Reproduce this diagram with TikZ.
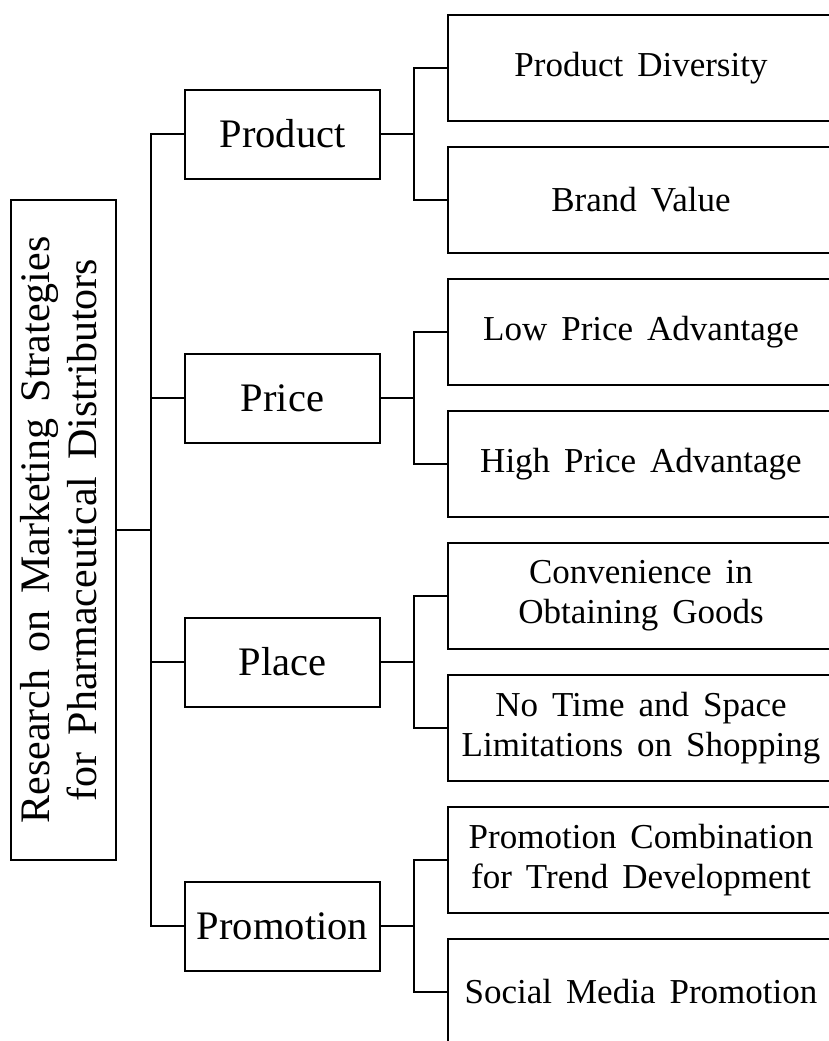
\documentclass[tikz,border=0pt]{standalone}
\usepackage{fontspec}
\usepackage{graphicx}
\setmainfont{Liberation Serif}
\newcommand\wsp{\spaceskip=0.4em plus 0.1em\relax}
\begin{document}
\begin{tikzpicture}[x=1pt,y=-1pt,
  box/.style={draw, line width=2pt, inner sep=0pt, align=center},
  rootbox/.style={box, minimum width=105pt, minimum height=660pt},
  lone/.style={box, minimum width=195pt, minimum height=89pt, font=\fontsize{40.5}{47}\selectfont\wsp},
  leaf/.style={box, minimum width=386pt, minimum height=106pt, font=\fontsize{35}{40}\selectfont\wsp},
  link/.style={line width=2pt}]
\clip (0,0) rectangle (829,1041);
\coordinate (tk) at (151,0);
\coordinate (bx) at (414,0);

\node[rootbox] (root) at (63.5,530) {\rotatebox{90}{\fontsize{42}{47}\selectfont\wsp\begin{tabular}{@{}c@{}}Research on Marketing Strategies\\for Pharmaceutical Distributors\end{tabular}}};

\node[lone] (product) at (282.5,134) {Product};
\node[lone] (price) at (282.5,398) {Price};
\node[lone] (place) at (282.5,662) {Place};
\node[lone] (promotion) at (282.5,926) {Promotion};

\node[leaf] (diversity) at (641,68) {Product Diversity};
\node[leaf] (brand) at (641,200) {Brand Value};
\node[leaf] (low) at (641,332) {Low Price Advantage};
\node[leaf] (high) at (641,464) {High Price Advantage};
\node[leaf] (conv) at (641,596) {Convenience in\\Obtaining Goods};
\node[leaf] (notime) at (641,728) {No Time and Space\\Limitations on Shopping};
\node[leaf] (combo) at (641,860) {Promotion Combination\\for Trend Development};
\node[leaf] (social) at (641,992) {Social Media Promotion};

\draw[link] (root.east) -- (root.east -| tk);
\draw[link] (product.west) -- (product.west -| tk) -- (promotion.west -| tk) -- (promotion.west);
\draw[link] (price.west) -- (price.west -| tk);
\draw[link] (place.west) -- (place.west -| tk);

\foreach \n/\a/\b in {product/diversity/brand, price/low/high, place/conv/notime, promotion/combo/social}{
  \draw[link] (\n.east) -- (\n.east -| bx);
  \draw[link] (\a.west) -- (\a.west -| bx) -- (\b.west -| bx) -- (\b.west);
}
\end{tikzpicture}
\end{document}
